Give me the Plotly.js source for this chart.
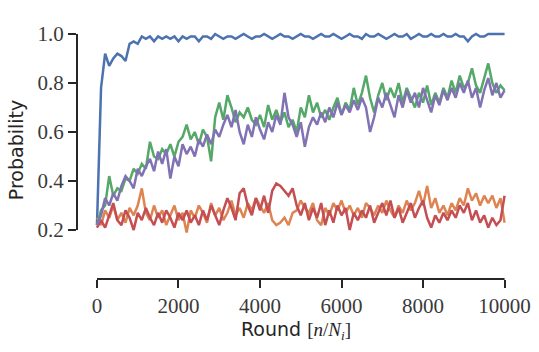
<!DOCTYPE html>
<html>
<head>
<meta charset="utf-8">
<script src="https://cdn.plot.ly/plotly-3.0.1.min.js"></script>
</head>
<body style="margin:0;background:#fff">
<div id="chart" style="width:539px;height:352px;"></div>
<script>
const rounds = Array.from({length: 101}, (_, i) => i * 100);

const seriesBlue = [0.22,0.78,0.92,0.87,0.90,0.92,0.91,0.89,0.96,0.97,
0.96,0.99,0.98,0.99,0.97,0.99,0.98,0.99,0.98,0.99,
0.97,0.99,0.98,0.99,0.99,0.97,0.99,0.99,0.98,1.00,
0.99,0.98,0.99,0.99,0.98,0.99,1.00,0.99,0.98,0.99,
0.99,1.00,0.99,0.98,0.99,1.00,0.99,0.99,0.98,0.99,
1.00,0.99,0.99,0.98,0.99,1.00,0.99,0.99,1.00,0.99,
0.98,0.99,1.00,0.99,0.99,0.98,1.00,0.99,0.99,1.00,
0.99,0.98,0.99,1.00,0.99,0.99,1.00,0.98,0.99,1.00,
0.99,0.99,1.00,0.99,0.99,1.00,0.99,0.99,1.00,0.99,
0.99,0.97,0.99,1.00,0.99,0.99,1.00,1.00,1.00,1.00,1.00];

const seriesOrange = [0.25,0.22,0.28,0.25,0.30,0.24,0.27,0.23,0.29,0.26,
0.30,0.37,0.27,0.24,0.30,0.25,0.28,0.22,0.26,0.30,
0.24,0.27,0.19,0.28,0.25,0.30,0.27,0.23,0.31,0.26,
0.29,0.24,0.27,0.32,0.26,0.29,0.25,0.31,0.28,0.33,
0.30,0.27,0.31,0.24,0.22,0.23,0.25,0.22,0.27,0.28,
0.32,0.29,0.27,0.31,0.24,0.22,0.29,0.26,0.31,0.28,
0.32,0.27,0.30,0.26,0.29,0.25,0.31,0.29,0.26,0.30,
0.27,0.32,0.28,0.25,0.30,0.27,0.32,0.28,0.31,0.36,
0.30,0.38,0.29,0.33,0.27,0.30,0.26,0.31,0.28,0.33,
0.30,0.37,0.32,0.35,0.30,0.34,0.31,0.34,0.29,0.33,0.23];

const seriesGreen = [0.22,0.28,0.30,0.42,0.34,0.37,0.36,0.41,0.40,0.45,
0.43,0.47,0.45,0.56,0.50,0.49,0.53,0.51,0.55,0.50,
0.56,0.58,0.63,0.57,0.60,0.55,0.61,0.58,0.48,0.66,
0.72,0.65,0.75,0.70,0.64,0.68,0.66,0.70,0.65,0.63,
0.67,0.62,0.71,0.65,0.69,0.64,0.68,0.62,0.65,0.60,
0.70,0.66,0.75,0.68,0.72,0.66,0.69,0.65,0.70,0.74,
0.67,0.72,0.69,0.78,0.71,0.76,0.83,0.74,0.68,0.75,
0.80,0.73,0.78,0.74,0.80,0.72,0.78,0.74,0.70,0.76,
0.72,0.79,0.71,0.76,0.72,0.78,0.74,0.81,0.76,0.83,
0.78,0.80,0.86,0.79,0.76,0.82,0.88,0.80,0.76,0.79,0.77];

const seriesRed = [0.21,0.24,0.21,0.26,0.31,0.24,0.22,0.28,0.25,0.20,
0.27,0.24,0.29,0.25,0.22,0.27,0.23,0.28,0.25,0.21,
0.27,0.24,0.28,0.23,0.26,0.22,0.28,0.24,0.30,0.26,
0.22,0.28,0.33,0.29,0.24,0.35,0.37,0.30,0.26,0.33,
0.28,0.34,0.27,0.36,0.39,0.38,0.36,0.34,0.37,0.30,
0.26,0.31,0.24,0.29,0.25,0.31,0.22,0.28,0.23,0.30,
0.26,0.29,0.20,0.27,0.24,0.28,0.25,0.30,0.23,0.27,
0.31,0.26,0.32,0.25,0.29,0.23,0.27,0.31,0.25,0.29,
0.32,0.25,0.21,0.26,0.23,0.27,0.24,0.28,0.25,0.30,
0.27,0.31,0.24,0.28,0.23,0.26,0.21,0.25,0.22,0.24,0.34];

const seriesPurple = [0.22,0.26,0.33,0.30,0.35,0.32,0.38,0.42,0.40,0.37,
0.45,0.42,0.46,0.49,0.44,0.52,0.47,0.53,0.41,0.50,
0.46,0.55,0.51,0.54,0.50,0.57,0.54,0.59,0.55,0.61,
0.58,0.63,0.67,0.62,0.69,0.60,0.55,0.63,0.58,0.66,
0.61,0.57,0.64,0.60,0.67,0.63,0.76,0.66,0.63,0.58,
0.64,0.54,0.62,0.66,0.63,0.68,0.64,0.70,0.66,0.72,
0.67,0.71,0.68,0.73,0.69,0.74,0.70,0.60,0.66,0.74,
0.70,0.76,0.71,0.66,0.75,0.70,0.77,0.72,0.76,0.70,
0.78,0.73,0.68,0.75,0.71,0.77,0.73,0.78,0.74,0.80,
0.76,0.81,0.74,0.78,0.70,0.77,0.82,0.75,0.80,0.74,0.77];

const yTicks = [0.2, 0.4, 0.6, 0.8, 1.0];
const yTickText = ['0.2', '0.4', '0.6', '0.8', '1.0'];
const xTicks = [0, 2000, 4000, 6000, 8000, 10000];
const xTickText = ['0', '2000', '4000', '6000', '8000', '10000'];

const colors = ['#4C72B0', '#DD8452', '#55A868', '#C44E52', '#8172B3'];
const allSeries = [seriesBlue, seriesOrange, seriesGreen, seriesRed, seriesPurple];

const traces = allSeries.map((ys, i) => ({
  x: rounds, y: ys, type: 'scatter', mode: 'lines',
  line: {color: colors[i], width: 2.5}, showlegend: false, hoverinfo: 'skip'
}));

const ink = '#262626';

const layout = {
  width: 539, height: 352,
  margin: {l: 77, r: 24, t: 21, b: 73},
  paper_bgcolor: '#ffffff', plot_bgcolor: '#ffffff',
  showlegend: false,
  xaxis: {
    range: [-490, 10256], showgrid: false, zeroline: false, showline: false,
    tickmode: 'array', tickvals: xTicks, ticktext: xTickText,
    ticks: 'outside', ticklen: 8, tickwidth: 2, tickcolor: ink,
    tickfont: {family: 'Liberation Serif', size: 21, color: '#3a3a3a'},
    title: {text: 'Round <span style="font-family:Liberation Serif">[<i>n</i>/<i>N</i><sub><i>i</i></sub>]</span>',
            font: {family: 'DejaVu Sans', size: 19, color: ink}, standoff: 4}
  },
  yaxis: {
    range: [0, 1.0531], showgrid: false, zeroline: false, showline: false,
    tickmode: 'array', tickvals: yTicks, ticktext: yTickText,
    ticks: 'outside', ticklen: 8, tickwidth: 2, tickcolor: ink,
    tickfont: {family: 'Liberation Serif', size: 21, color: '#3a3a3a'},
    title: {text: 'Probability', font: {family: 'DejaVu Sans', size: 19, color: ink}, standoff: 8}
  },
  shapes: [
    {type: 'line', xref: 'paper', yref: 'y', x0: 0, x1: 0, y0: 0.2, y1: 1.0,
     line: {color: ink, width: 2}},
    {type: 'line', xref: 'x', yref: 'paper', x0: 0, x1: 10000, y0: 0, y1: 0,
     line: {color: ink, width: 2}}
  ]
};

Plotly.newPlot('chart', traces, layout, {displayModeBar: false, staticPlot: true});
</script>
</body>
</html>
